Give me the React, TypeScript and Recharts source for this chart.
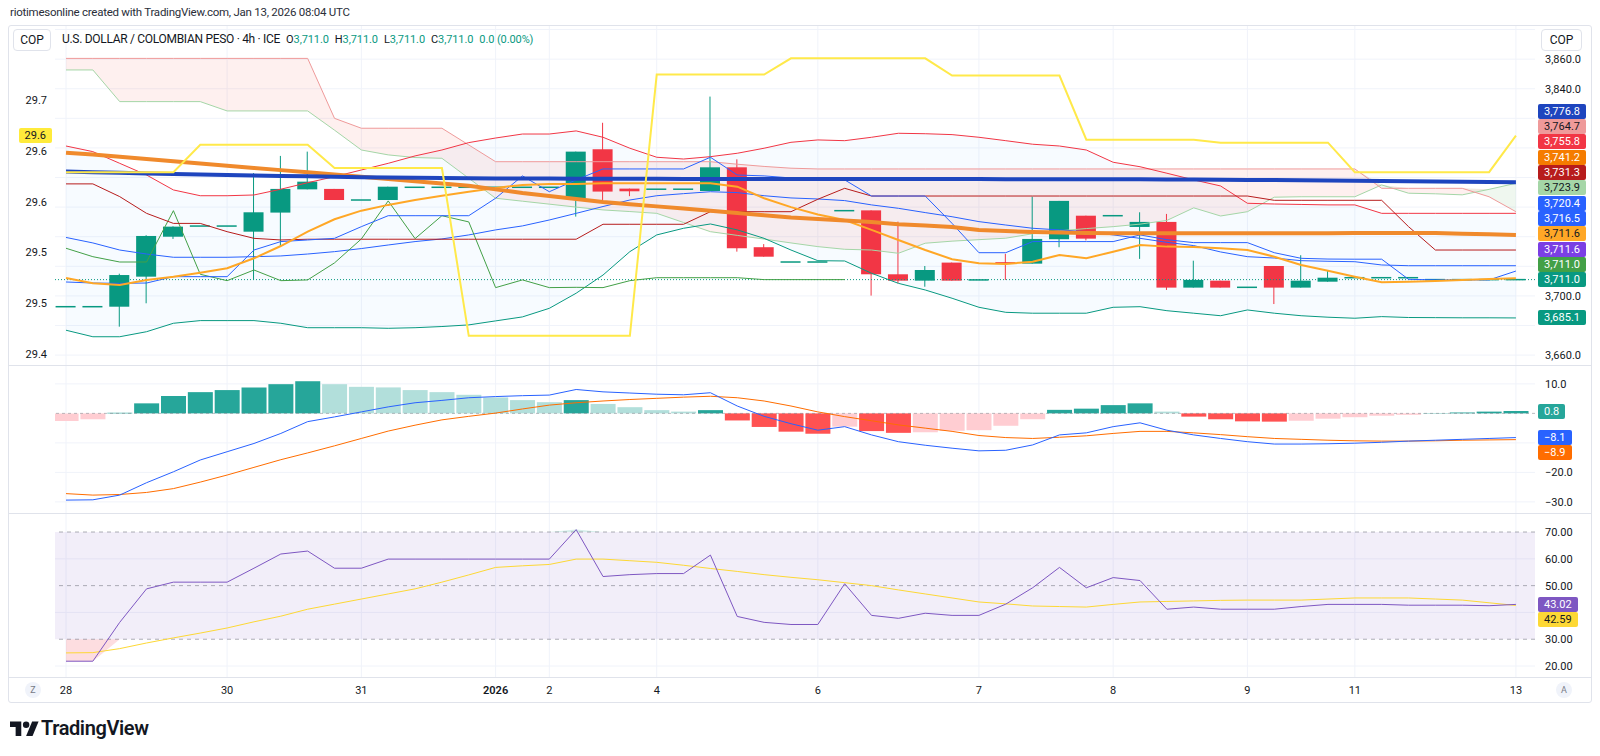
import React from 'react'
import { ComposedChart, Bar, Line, Area, XAxis, YAxis, CartesianGrid, ReferenceLine, ReferenceArea, Cell } from 'recharts'

// time axis: bar index of each day boundary and its label
const dayTicks = [0, 6, 11, 16, 18, 22, 28, 34, 39, 44, 48, 54]
const dayLabels = ['28', '30', '31', '2026', '2', '4', '6', '7', '8', '9', '11', '13']

// 4h candles
const opens = [3692.7, 3692.7, 3692.7, 3713.0, 3740.0, 3747.2, 3747.2, 3743.4, 3756.3, 3772.0,
  3772.3, 3764.8, 3764.8, 3773.4, 3773.4, 3773.4, 3773.4, 3773.4, 3773.4, 3765.5,
  3799.1, 3772.5, 3772.1, 3772.1, 3770.9, 3786.9, 3732.9, 3722.9, 3722.9, 3757.6,
  3757.8, 3714.6, 3710.3, 3722.5, 3710.8, 3722.8, 3721.8, 3738.3, 3754.2, 3754.2,
  3746.6, 3750.0, 3705.6, 3710.3, 3705.8, 3720.2, 3705.6, 3709.6, 3712.3, 3712.3,
  3712.3, 3711.0, 3711.0, 3711.0, 3711.0]
const highs = [3692.7, 3692.7, 3715.0, 3741.0, 3747.0, 3747.2, 3747.2, 3783.0, 3794.6, 3797.5,
  3772.3, 3764.8, 3773.8, 3773.4, 3773.4, 3773.4, 3773.4, 3773.4, 3773.4, 3797.5,
  3817.0, 3772.5, 3772.1, 3772.1, 3834.7, 3792.3, 3735.0, 3722.9, 3722.9, 3757.6,
  3757.8, 3750.2, 3720.2, 3722.5, 3710.8, 3728.4, 3767.1, 3764.2, 3754.2, 3754.2,
  3756.5, 3755.4, 3723.8, 3710.3, 3705.8, 3720.2, 3727.5, 3717.5, 3712.3, 3712.3,
  3712.3, 3711.0, 3711.0, 3711.0, 3711.0]
const lows = [3692.7, 3692.7, 3679.2, 3695.0, 3738.5, 3747.2, 3747.2, 3711.0, 3733.3, 3772.0,
  3764.8, 3764.8, 3764.8, 3773.4, 3773.4, 3773.4, 3773.4, 3773.4, 3773.4, 3753.6,
  3763.0, 3767.4, 3772.1, 3772.1, 3770.9, 3729.9, 3726.5, 3722.9, 3722.9, 3757.6,
  3700.2, 3708.5, 3706.2, 3710.3, 3710.8, 3710.8, 3721.8, 3732.9, 3737.5, 3754.2,
  3725.0, 3704.0, 3705.6, 3705.6, 3705.8, 3694.5, 3705.6, 3709.6, 3712.3, 3712.3,
  3712.3, 3711.0, 3711.0, 3711.0, 3711.0]
const closes = [3692.7, 3692.7, 3714.1, 3740.5, 3746.8, 3747.2, 3747.2, 3756.5, 3772.3, 3777.2,
  3764.8, 3764.8, 3773.8, 3773.4, 3773.4, 3773.4, 3773.4, 3773.4, 3773.4, 3797.5,
  3770.5, 3770.7, 3772.1, 3772.1, 3786.9, 3732.2, 3726.5, 3722.9, 3722.9, 3757.6,
  3714.6, 3710.3, 3717.5, 3710.3, 3710.8, 3722.3, 3738.5, 3764.2, 3738.7, 3754.2,
  3750.0, 3705.6, 3710.8, 3705.6, 3705.8, 3705.6, 3710.3, 3712.3, 3712.3, 3712.3,
  3712.3, 3711.0, 3711.0, 3711.0, 3711.0]

// Bollinger bands
const bbUpper = [3801.3, 3797.5, 3789.6, 3781.7, 3771.6, 3767.7, 3767.7, 3768.2, 3772.1, 3776.5,
  3780.6, 3785.1, 3789.6, 3794.6, 3798.6, 3803.6, 3806.7, 3809.4, 3809.4, 3811.5,
  3807.2, 3799.8, 3793.7, 3792.5, 3794.1, 3796.4, 3799.8, 3803.8, 3805.4, 3804.9,
  3807.2, 3809.9, 3809.6, 3809.0, 3807.2, 3804.9, 3802.5, 3801.3, 3798.6, 3790.3,
  3787.3, 3782.9, 3778.4, 3774.3, 3762.6, 3762.1, 3761.8, 3761.5, 3761.5, 3755.8,
  3755.8, 3755.8, 3755.8, 3755.8, 3755.8]
const bbBasis = [3739.5, 3735.8, 3731.0, 3728.3, 3726.1, 3726.1, 3726.1, 3726.5, 3727.0, 3728.3,
  3729.9, 3732.0, 3734.4, 3736.7, 3738.5, 3741.2, 3744.6, 3747.3, 3751.3, 3755.8,
  3760.4, 3764.8, 3767.7, 3769.1, 3770.4, 3769.8, 3767.7, 3766.2, 3765.5, 3764.4,
  3761.5, 3759.2, 3756.3, 3753.5, 3750.2, 3747.9, 3745.7, 3744.6, 3743.4, 3741.2,
  3738.9, 3736.2, 3734.0, 3729.7, 3726.5, 3725.6, 3723.8, 3723.4, 3723.1, 3720.9,
  3720.4, 3720.4, 3720.4, 3720.4, 3720.4]
const bbLower = [3676.8, 3672.4, 3672.4, 3675.8, 3681.5, 3683.3, 3683.3, 3683.3, 3681.5, 3678.5,
  3678.5, 3678.5, 3678.1, 3678.5, 3679.3, 3680.4, 3683.1, 3685.8, 3691.6, 3701.8,
  3714.1, 3729.9, 3741.2, 3745.7, 3748.6, 3744.6, 3738.9, 3731.0, 3723.8, 3723.6,
  3715.3, 3708.5, 3704.0, 3698.4, 3692.3, 3688.9, 3688.3, 3688.3, 3688.3, 3692.3,
  3692.7, 3690.0, 3688.3, 3686.6, 3690.5, 3688.3, 3686.6, 3685.6, 3684.9, 3686.0,
  3685.4, 3685.3, 3685.2, 3685.2, 3685.1]

// Ichimoku
const tenkan = [3709.4, 3708.7, 3708.5, 3708.7, 3713.0, 3713.0, 3713.0, 3731.0, 3736.7, 3737.8,
  3738.9, 3746.8, 3754.2, 3754.2, 3754.2, 3754.2, 3766.0, 3781.1, 3770.4, 3778.4,
  3785.8, 3785.8, 3785.8, 3785.8, 3793.7, 3781.7, 3781.1, 3779.7, 3778.4, 3778.4,
  3767.5, 3767.5, 3767.5, 3749.0, 3729.2, 3729.2, 3736.7, 3736.7, 3736.7, 3736.7,
  3741.2, 3738.0, 3736.0, 3736.0, 3736.0, 3729.2, 3725.4, 3724.9, 3724.8, 3724.8,
  3711.2, 3710.8, 3710.8, 3710.8, 3716.8]
const kijun = [3775.7, 3775.7, 3767.1, 3755.8, 3749.0, 3749.0, 3743.4, 3738.9, 3737.8, 3738.3,
  3738.3, 3738.3, 3738.3, 3738.3, 3738.3, 3738.3, 3738.3, 3738.3, 3738.3, 3738.3,
  3748.4, 3748.4, 3748.4, 3748.4, 3756.9, 3756.9, 3756.9, 3756.9, 3765.3, 3772.7,
  3767.5, 3767.5, 3767.5, 3767.5, 3767.5, 3767.5, 3767.5, 3767.5, 3767.5, 3767.5,
  3767.5, 3767.5, 3767.5, 3767.5, 3767.5, 3764.6, 3764.6, 3764.6, 3764.6, 3764.6,
  3746.8, 3731.0, 3731.0, 3731.0, 3731.0]
const spanA = [3852.7, 3852.7, 3831.3, 3831.3, 3831.3, 3831.3, 3825.0, 3825.0, 3825.0, 3825.0,
  3812.0, 3798.6, 3795.3, 3793.5, 3793.0, 3779.5, 3766.0, 3764.0, 3762.0, 3760.0,
  3758.1, 3757.0, 3755.8, 3749.6, 3743.4, 3740.9, 3738.4, 3735.8, 3733.3, 3731.5,
  3731.0, 3728.8, 3735.6, 3737.0, 3738.0, 3739.0, 3742.0, 3744.0, 3745.5, 3746.8,
  3748.5, 3751.0, 3759.5, 3754.0, 3756.9, 3766.7, 3767.0, 3767.0, 3767.0, 3775.0,
  3769.4, 3769.0, 3768.3, 3772.0, 3776.1]
const spanB = [3860.5, 3860.5, 3860.5, 3860.5, 3860.5, 3860.5, 3860.5, 3860.5, 3860.5, 3860.5,
  3820.0, 3813.3, 3813.3, 3813.3, 3813.3, 3802.0, 3790.7, 3790.7, 3790.7, 3790.7,
  3790.7, 3790.7, 3790.7, 3790.7, 3790.7, 3789.0, 3787.5, 3786.3, 3785.8, 3785.8,
  3785.8, 3785.8, 3785.8, 3785.8, 3785.8, 3785.8, 3785.8, 3785.8, 3785.8, 3785.8,
  3785.8, 3785.8, 3785.8, 3785.8, 3785.8, 3785.8, 3785.8, 3785.8, 3785.8, 3772.7,
  3772.7, 3772.7, 3772.7, 3767.0, 3756.9]
const lagging = [3732.2, 3726.5, 3722.9, 3722.9, 3757.6, 3714.6, 3710.3, 3717.5, 3710.3, 3710.8,
  3722.3, 3738.5, 3764.2, 3738.7, 3754.2, 3750.0, 3705.6, 3710.8, 3705.6, 3705.8,
  3705.6, 3710.3, 3712.3, 3712.3, 3712.3, 3712.3, 3711.0, 3711.0, 3711.0, 3711.0]

// moving averages
const emaFast = [3712.1, 3708.5, 3707.4, 3710.8, 3713.0, 3715.7, 3718.7, 3725.4, 3733.7, 3743.4,
  3751.8, 3757.6, 3761.5, 3764.8, 3767.7, 3770.4, 3772.9, 3775.0, 3775.7, 3775.7,
  3776.1, 3776.1, 3776.1, 3776.1, 3776.1, 3773.8, 3766.0, 3760.0, 3755.0, 3751.3,
  3744.6, 3737.8, 3731.0, 3724.8, 3722.1, 3721.6, 3723.1, 3727.7, 3725.4, 3729.9,
  3734.4, 3733.3, 3733.1, 3732.2, 3731.0, 3726.5, 3720.9, 3717.0, 3713.0, 3709.2,
  3709.6, 3710.1, 3710.8, 3711.4, 3711.9]
const maOrange = [3796.8, 3795.5, 3794.0, 3792.5, 3791.0, 3789.5, 3788.0, 3786.5, 3785.0, 3783.5,
  3782.0, 3780.5, 3779.0, 3777.5, 3776.0, 3774.5, 3772.0, 3769.5, 3767.5, 3765.5,
  3763.5, 3762.0, 3760.5, 3759.0, 3757.5, 3756.0, 3754.5, 3753.0, 3752.0, 3751.0,
  3750.0, 3748.5, 3747.5, 3746.5, 3744.5, 3743.8, 3743.2, 3742.8, 3742.5, 3742.3,
  3742.3, 3742.3, 3742.3, 3742.3, 3742.3, 3742.3, 3742.3, 3742.3, 3742.5, 3742.5,
  3742.5, 3742.5, 3742.0, 3741.6, 3741.2]
const maBlue = [3784.0, 3783.6, 3783.2, 3782.8, 3782.4, 3782.0, 3781.7, 3781.4, 3781.1, 3780.8,
  3780.5, 3780.2, 3780.0, 3779.8, 3779.6, 3779.5, 3779.4, 3779.3, 3779.3, 3779.2,
  3779.2, 3779.1, 3779.1, 3779.0, 3779.0, 3779.0, 3779.0, 3779.0, 3779.0, 3779.0,
  3779.0, 3779.0, 3779.0, 3779.0, 3779.0, 3778.9, 3778.9, 3778.9, 3778.9, 3778.9,
  3778.8, 3778.7, 3778.6, 3778.5, 3778.4, 3778.3, 3778.2, 3778.0, 3777.9, 3777.7,
  3777.5, 3777.3, 3777.1, 3776.9, 3776.8]
// series on the left scale
const yellowLine = [29.579, 29.579, 29.579, 29.579, 29.579, 29.606, 29.606, 29.606, 29.606, 29.606,
  29.583, 29.583, 29.583, 29.583, 29.583, 29.418, 29.418, 29.418, 29.418, 29.418,
  29.418, 29.418, 29.675, 29.675, 29.675, 29.675, 29.675, 29.691, 29.691, 29.691,
  29.691, 29.691, 29.691, 29.674, 29.674, 29.674, 29.674, 29.674, 29.611, 29.611,
  29.611, 29.611, 29.611, 29.608, 29.608, 29.608, 29.608, 29.608, 29.579, 29.579,
  29.579, 29.579, 29.579, 29.579, 29.615]

// MACD
const macdHist = [-2.6, -2.0, 0.2, 3.4, 5.9, 7.2, 7.9, 8.8, 9.9, 10.9,
  9.9, 9.0, 8.8, 7.9, 7.2, 6.3, 5.4, 4.5, 3.8, 4.5,
  3.2, 2.1, 1.1, 0.6, 1.1, -2.4, -4.6, -6.2, -6.9, -4.5,
  -6.0, -6.6, -6.4, -5.9, -5.7, -4.2, -2.0, 1.2, 1.6, 2.8,
  3.4, 0.6, -1.1, -2.0, -2.7, -2.8, -2.5, -1.8, -1.3, -0.8,
  -0.5, 0.1, 0.3, 0.6, 0.8]
const macdLine = [-29.4, -29.3, -27.7, -23.5, -19.8, -15.8, -13.0, -10.2, -6.8, -2.8,
  -1.2, 0.5, 2.2, 3.6, 4.4, 5.3, 5.7, 6.0, 6.2, 8.1,
  7.3, 6.9, 6.5, 6.3, 7.0, 2.5, -1.0, -3.5, -5.7, -4.5,
  -7.3, -9.6, -10.8, -11.8, -12.7, -12.5, -10.7, -7.3, -6.6, -4.5,
  -3.2, -5.7, -7.3, -8.5, -9.6, -10.4, -10.4, -10.3, -10.1, -9.8,
  -9.4, -9.1, -8.8, -8.5, -8.2]
const signalLine = [-27.2, -27.7, -27.5, -26.8, -25.5, -23.3, -20.9, -18.3, -15.7, -13.4,
  -11.0, -8.5, -6.0, -4.0, -2.2, -1.0, 0.1, 1.5, 2.8, 3.6,
  4.2, 4.7, 5.1, 5.5, 5.8, 5.3, 4.2, 2.5, 0.5, -1.1,
  -2.5, -3.9, -5.0, -6.1, -7.5, -8.2, -8.5, -8.1, -7.6, -6.8,
  -6.1, -6.1, -6.6, -7.2, -7.9, -8.5, -8.8, -9.1, -9.3, -9.4,
  -9.4, -9.3, -9.1, -9.0, -8.9]

// RSI
const rsi = [21.8, 21.8, 36.3, 48.8, 51.3, 51.3, 51.3, 56.5, 61.8, 62.9,
  56.5, 56.5, 59.9, 59.9, 59.9, 59.9, 59.9, 59.9, 59.9, 70.9,
  53.4, 54.1, 54.5, 54.5, 61.4, 38.5, 36.3, 35.5, 35.5, 50.7,
  38.9, 37.8, 39.7, 38.9, 38.9, 43.1, 49.2, 56.8, 49.2, 53.0,
  51.9, 41.2, 42.0, 41.2, 41.2, 41.2, 42.2, 43.0, 43.0, 43.0,
  42.7, 42.7, 42.7, 42.5, 43.0]
const rsiMa = [24.9, 25.0, 26.5, 28.6, 30.5, 32.3, 34.2, 36.5, 38.6, 41.2,
  43.1, 45.0, 46.9, 48.8, 51.3, 54.0, 56.8, 57.4, 57.9, 59.9,
  59.9, 59.3, 58.7, 57.6, 56.4, 55.3, 54.1, 53.1, 52.2, 51.1,
  50.0, 48.4, 46.9, 45.4, 43.9, 43.2, 42.4, 42.2, 42.0, 43.0,
  43.9, 44.1, 44.3, 44.5, 44.6, 44.6, 44.6, 45.0, 45.4, 45.4,
  45.4, 45.0, 44.6, 43.6, 42.6]

// axis ticks
const priceTicks = [3660, 3680, 3700, 3720, 3740, 3760, 3780, 3800, 3820, 3840, 3860]
const priceGrid = [...priceTicks, 3880]
const leftTicks = [29.4, 29.45, 29.5, 29.55, 29.6, 29.65]
const macdTicks = [10, 0, -10, -20, -30]
const macdGrid = [10, -10, -20, -30]
const rsiTicks = [70, 60, 50, 40, 30, 20]
const rsiGrid = [60, 40, 20]

// last-value tags on the scales (top to bottom)
const priceTagValues = [3776.8, 3764.7, 3755.8, 3741.2, 3731.3, 3723.9, 3720.4, 3716.5, 3711.6, 3711.6, 3711.0, 3711.0, 3685.1]
const priceTagColors = ['#1E45BE', '#EF9A9A', '#F23645', '#F57C00', '#B71C1C', '#A5D6A7', '#2962FF', '#2962FF', '#FFA726', '#7B3FE4', '#43A047', '#089981', '#089981']
const macdTagValues = [0.8, -8.1, -8.9]
const macdTagColors = ['#26A69A', '#2962FF', '#FF6D00']
const rsiTagValues = [43.02, 42.59]
const rsiTagColors = ['#7E57C2', '#FDD835']
const darkTextTags = ['#EF9A9A', '#A5D6A7', '#FFA726', '#FDD835', '#FFEB3B']

const W = 1600
const FONT = 'Roboto, "Open Sans", sans-serif'
const TEXT = '#131722'
const GRID = '#F0F3FA'
const BORDER = '#E0E3EB'
const UP = '#089981'
const DOWN = '#F23645'

const PRICE_TOP = 26
const PRICE_H = 339
const MACD_TOP = 365
const MACD_H = 148
const RSI_TOP = 513
const RSI_H = 164
const X_DOMAIN: [number, number] = [-0.41, 54.71]
const PRICE_DOMAIN: [number, number] = [3653.3, 3882.4]
const LEFT_DOMAIN: [number, number] = [29.3893, 29.7228]
const MACD_DOMAIN: [number, number] = [-33.77, 16.4]
const RSI_DOMAIN: [number, number] = [15.91, 77.1]
const TAG_H = 15.3

const fmt1 = (v: number) => v.toLocaleString('en-US', { minimumFractionDigits: 1, maximumFractionDigits: 1 })
const fmtSigned = (v: number) => (v < 0 ? '\u2212' : '') + Math.abs(v).toFixed(1)
const fmtLeft = (v: number) => (Math.round(v * 20) / 20 + 0.0001).toFixed(1)

const toY = (v: number, dom: [number, number], top: number, h: number) => top + ((dom[1] - v) / (dom[1] - dom[0])) * h

const stackUp = (ys: number[]) => {
  const out = [...ys]
  for (let k = out.length - 2; k >= 0; k--) out[k] = Math.min(out[k], out[k + 1] - TAG_H)
  return out
}
const stackDown = (ys: number[]) => {
  const out = [...ys]
  for (let k = 1; k < out.length; k++) out[k] = Math.max(out[k], out[k - 1] + TAG_H)
  return out
}

// tag positions, and the scale labels they cover
const priceTagY = stackUp(priceTagValues.map((v) => toY(v, PRICE_DOMAIN, PRICE_TOP, PRICE_H)))
const macdTagY = stackDown(macdTagValues.map((v) => toY(v, MACD_DOMAIN, MACD_TOP, MACD_H)))
const rsiTagY = stackDown(rsiTagValues.map((v) => toY(v, RSI_DOMAIN, RSI_TOP, RSI_H)))
const visible = (ticks: number[], tagY: number[], dom: [number, number], top: number, h: number) =>
  ticks.filter((t) => tagY.every((y) => Math.abs(toY(t, dom, top, h) - y) > 13))
const priceAxisTicks = visible(priceTicks, priceTagY, PRICE_DOMAIN, PRICE_TOP, PRICE_H)
const macdAxisTicks = visible(macdTicks, macdTagY, MACD_DOMAIN, MACD_TOP, MACD_H)
const rsiAxisTicks = visible(rsiTicks, rsiTagY, RSI_DOMAIN, RSI_TOP, RSI_H)

const priceRows = opens.map((o, i) => ({
  i, o, h: highs[i], l: lows[i], c: closes[i],
  bbUp: bbUpper[i], bbMid: bbBasis[i], bbLo: bbLower[i],
  tenkan: tenkan[i], kijun: kijun[i], spanA: spanA[i], spanB: spanB[i],
  lag: i < lagging.length ? lagging[i] : null,
  ema: emaFast[i], maO: maOrange[i], maB: maBlue[i], yel: yellowLine[i],
}))
const macdRows = macdHist.map((hist, i) => ({ i, hist, macd: macdLine[i], signal: signalLine[i] }))
const rsiRows = rsi.map((v, i) => ({ i, rsi: v, ma: rsiMa[i] }))

const histColor = (i: number) => {
  const v = macdHist[i]
  const prev = i > 0 ? macdHist[i - 1] : v
  if (v >= 0) return v >= prev ? '#26A69A' : '#B2DFDB'
  return v < prev ? '#FF5252' : '#FFCDD2'
}

const candleRange = (r: any) => (r.h - r.l < 0.05 ? [r.l - 0.05, r.h + 0.05] : [r.l, r.h])

const Candle = (props: any) => {
  const { x, y, width, height, payload } = props
  if (x == null || y == null || !payload) return null
  const color = payload.c < payload.o ? DOWN : UP
  const h = Math.abs(height)
  if (payload.h - payload.l < 0.05) {
    return <rect x={x} y={y + h / 2 - 0.75} width={width} height={1.5} fill={color} />
  }
  const [lo, hi] = candleRange(payload)
  const k = h / (hi - lo)
  const cx = x + width / 2
  const top = y + (hi - Math.max(payload.o, payload.c)) * k
  const bot = y + (hi - Math.min(payload.o, payload.c)) * k
  return (
    <g>
      <line x1={cx} x2={cx} y1={y} y2={y + h} stroke={color} strokeWidth={1} />
      <rect x={x} y={top} width={width} height={Math.max(bot - top, 1.5)} fill={color} />
    </g>
  )
}

const tickText = (fmt: (v: number) => string, anchor: 'start' | 'end') => (p: any) => (
  <text x={p.x} y={p.y} dy={4} textAnchor={anchor} fontSize={11} fill={TEXT} fontFamily={FONT}>
    {fmt(p.payload.value)}
  </text>
)

const Tag = ({ y, bg, text, left, right }: any) => (
  <div
    style={{
      position: 'absolute', top: y - 7.5, left, right, height: 15, lineHeight: '15px', padding: '0 6px',
      background: bg, color: darkTextTags.includes(bg) ? TEXT : '#fff', fontSize: 11, borderRadius: 2, whiteSpace: 'nowrap',
    }}
  >
    {text}
  </div>
)

const lineProps = { type: 'linear' as const, dot: false, activeDot: false, isAnimationActive: false }

const PriceChart = () => (
  <ComposedChart width={W} height={PRICE_H} data={priceRows} margin={{ top: 0, right: 10, bottom: 0, left: 10 }}>
    <CartesianGrid yAxisId="price" stroke={GRID} verticalValues={dayTicks} horizontalValues={priceGrid} />
    <XAxis dataKey="i" type="number" domain={X_DOMAIN} ticks={dayTicks} allowDataOverflow hide />
    <YAxis yAxisId="left" orientation="left" width={45} domain={LEFT_DOMAIN} ticks={leftTicks} interval={0}
      allowDataOverflow axisLine={false} tickLine={false} tickSize={0} tickMargin={8} tick={tickText(fmtLeft, 'end')} />
    <YAxis yAxisId="price" orientation="right" width={55} domain={PRICE_DOMAIN} ticks={priceAxisTicks} interval={0}
      allowDataOverflow axisLine={false} tickLine={false} tickSize={0} tickMargin={10} tick={tickText(fmt1, 'start')} />
    <Area yAxisId="price" dataKey={(r: any) => [r.bbLo, r.bbUp]} type="linear" stroke="none" fill="rgba(33,150,243,0.06)" isAnimationActive={false} activeDot={false} />
    <Area yAxisId="price" dataKey={(r: any) => [r.spanA, Math.max(r.spanA, r.spanB)]} type="linear" stroke="none" fill="rgba(244,67,54,0.13)" isAnimationActive={false} activeDot={false} />
    <Area yAxisId="price" dataKey={(r: any) => [r.spanB, Math.max(r.spanA, r.spanB)]} type="linear" stroke="none" fill="rgba(67,160,71,0.14)" isAnimationActive={false} activeDot={false} />
    <ReferenceLine yAxisId="price" y={closes[closes.length - 1]} stroke={UP} strokeDasharray="1 2" />
    <Bar yAxisId="price" dataKey={candleRange} barSize={20} shape={(p: any) => <Candle {...p} />} isAnimationActive={false} />
    <Line yAxisId="price" dataKey="spanA" stroke="#A5D6A7" strokeWidth={1} {...lineProps} />
    <Line yAxisId="price" dataKey="spanB" stroke="#EF9A9A" strokeWidth={1} {...lineProps} />
    <Line yAxisId="price" dataKey="bbUp" stroke="#F23645" strokeWidth={1} {...lineProps} />
    <Line yAxisId="price" dataKey="bbLo" stroke="#089981" strokeWidth={1} {...lineProps} />
    <Line yAxisId="price" dataKey="bbMid" stroke="#2962FF" strokeWidth={1} {...lineProps} />
    <Line yAxisId="price" dataKey="lag" stroke="#43A047" strokeWidth={1} {...lineProps} />
    <Line yAxisId="price" dataKey="kijun" stroke="#B71C1C" strokeWidth={1} {...lineProps} />
    <Line yAxisId="price" dataKey="tenkan" stroke="#2962FF" strokeWidth={1} {...lineProps} />
    <Line yAxisId="price" dataKey="ema" stroke="#FFA726" strokeWidth={2} {...lineProps} />
    <Line yAxisId="price" dataKey="maO" stroke="#F08A2C" strokeWidth={4} {...lineProps} />
    <Line yAxisId="price" dataKey="maB" stroke="#1E45BE" strokeWidth={4} {...lineProps} />
    <Line yAxisId="left" dataKey="yel" stroke="#FFE94A" strokeWidth={2} {...lineProps} />
  </ComposedChart>
)

const MacdChart = () => (
  <ComposedChart width={W} height={MACD_H} data={macdRows} margin={{ top: 0, right: 10, bottom: 0, left: 55 }}>
    <CartesianGrid stroke={GRID} verticalValues={dayTicks} horizontalValues={macdGrid} />
    <XAxis dataKey="i" type="number" domain={X_DOMAIN} ticks={dayTicks} allowDataOverflow hide />
    <YAxis orientation="right" width={55} domain={MACD_DOMAIN} ticks={macdAxisTicks} interval={0} allowDataOverflow
      axisLine={false} tickLine={false} tickSize={0} tickMargin={10} tick={tickText(fmtSigned, 'start')} />
    <ReferenceLine y={0} stroke="#787B86" strokeOpacity={0.5} strokeDasharray="3 3" />
    <Bar dataKey="hist" barSize={25} isAnimationActive={false}>
      {macdRows.map((r) => <Cell key={r.i} fill={histColor(r.i)} />)}
    </Bar>
    <Line dataKey="signal" stroke="#FF6D00" strokeWidth={1} {...lineProps} />
    <Line dataKey="macd" stroke="#2962FF" strokeWidth={1} {...lineProps} />
  </ComposedChart>
)

const RsiChart = () => (
  <ComposedChart width={W} height={RSI_H + 26} data={rsiRows} margin={{ top: 0, right: 10, bottom: 0, left: 55 }}>
    <CartesianGrid stroke={GRID} verticalValues={dayTicks} horizontalValues={rsiGrid} />
    <XAxis dataKey="i" type="number" domain={X_DOMAIN} ticks={dayTicks} interval={0} allowDataOverflow height={26}
      axisLine={false} tickLine={false} tickSize={0} tickMargin={0}
      tick={(p: any) => (
        <text x={p.x} y={p.y} dy={17} textAnchor="middle" fontSize={11} fill={TEXT} fontFamily={FONT}
          fontWeight={dayLabels[dayTicks.indexOf(p.payload.value)] === '2026' ? 600 : 400}>
          {dayLabels[dayTicks.indexOf(p.payload.value)]}
        </text>
      )} />
    <YAxis orientation="right" width={55} domain={RSI_DOMAIN} ticks={rsiAxisTicks} interval={0} allowDataOverflow
      axisLine={false} tickLine={false} tickSize={0} tickMargin={10} tick={tickText((v) => v.toFixed(2), 'start')} />
    <ReferenceArea y1={30} y2={70} fill="#7E57C2" fillOpacity={0.1} stroke="none" />
    <ReferenceLine y={70} stroke="#787B86" strokeOpacity={0.6} strokeDasharray="4 4" />
    <ReferenceLine y={50} stroke="#787B86" strokeOpacity={0.6} strokeDasharray="4 4" />
    <ReferenceLine y={30} stroke="#787B86" strokeOpacity={0.6} strokeDasharray="4 4" />
    <Area dataKey={(r: any) => [Math.min(r.rsi, 30), 30]} type="linear" stroke="none" fill="rgba(242,54,69,0.28)" isAnimationActive={false} activeDot={false} />
    <Area dataKey={(r: any) => [70, Math.max(r.rsi, 70)]} type="linear" stroke="none" fill="rgba(8,153,129,0.28)" isAnimationActive={false} activeDot={false} />
    <Line dataKey="ma" stroke="#FDD835" strokeWidth={1} {...lineProps} />
    <Line dataKey="rsi" stroke="#7E57C2" strokeWidth={1} {...lineProps} />
  </ComposedChart>
)

const Logo = () => (
  <svg width={29} height={23} viewBox="0 0 36 28" style={{ position: 'absolute', left: 10, top: 718 }}>
    <path d="M14 22H7V11H0V4h14v18z" fill={TEXT} />
    <circle cx={20} cy={8} r={4} fill={TEXT} />
    <path d="M28 22h-8l7.5-18h8L28 22z" fill={TEXT} />
  </svg>
)

const Round = ({ x, text }: any) => (
  <div style={{ position: 'absolute', left: x - 8, top: 682, width: 16, height: 16, borderRadius: 8, background: '#F0F3FA', color: '#787B86', fontSize: 9, lineHeight: '16px', textAlign: 'center' }}>
    {text}
  </div>
)

export default function App() {
  const last = opens.length - 1
  const change = closes[last] - closes[last - 1]
  const yelY = toY(yellowLine[last], LEFT_DOMAIN, PRICE_TOP, PRICE_H)
  const ohlc: [string, number][] = [['O', opens[last]], ['H', highs[last]], ['L', lows[last]], ['C', closes[last]]]

  return (
    <div style={{ position: 'absolute', left: 0, top: 0, width: W, height: 756, background: '#fff', fontFamily: FONT, color: TEXT, overflow: 'hidden' }}>
      <div style={{ position: 'absolute', left: 10, top: 5, fontSize: 11.5, color: '#2A2E39', letterSpacing: -0.25, whiteSpace: 'nowrap' }}>
        riotimesonline created with TradingView.com, Jan 13, 2026 08:04 UTC
      </div>

      <div style={{ position: 'absolute', left: 8, top: 25, width: 1584, height: 678, border: `1px solid ${BORDER}`, boxSizing: 'border-box', borderRadius: 3 }} />

      <div style={{ position: 'absolute', left: 0, top: PRICE_TOP }}><PriceChart /></div>
      <div style={{ position: 'absolute', left: 0, top: MACD_TOP }}><MacdChart /></div>
      <div style={{ position: 'absolute', left: 0, top: RSI_TOP }}><RsiChart /></div>

      <div style={{ position: 'absolute', left: 9, top: MACD_TOP, width: 1582, height: 1, background: BORDER }} />
      <div style={{ position: 'absolute', left: 9, top: RSI_TOP, width: 1582, height: 1, background: BORDER }} />
      <div style={{ position: 'absolute', left: 9, top: RSI_TOP + RSI_H, width: 1582, height: 1, background: BORDER }} />

      <div style={{ position: 'absolute', left: 13, top: 29, width: 38, height: 22, boxSizing: 'border-box', border: `1px solid ${BORDER}`, borderRadius: 4, background: '#fff', fontSize: 12, lineHeight: '20px', textAlign: 'center' }}>COP</div>
      <div style={{ position: 'absolute', left: 1541, top: 29, width: 41, height: 22, boxSizing: 'border-box', border: `1px solid ${BORDER}`, borderRadius: 4, background: '#fff', fontSize: 12, lineHeight: '20px', textAlign: 'center' }}>COP</div>

      <div style={{ position: 'absolute', left: 62, top: 31, fontSize: 12, lineHeight: '16px', whiteSpace: 'nowrap', letterSpacing: -0.3 }}>
        <span>U.S. DOLLAR / COLOMBIAN PESO · 4h · ICE</span>
        <span style={{ fontSize: 11, letterSpacing: -0.1 }}>
          {ohlc.map(([k, v]) => (
            <span key={k} style={{ marginLeft: 6 }}>
              {k}<span style={{ color: UP }}>{fmt1(v)}</span>
            </span>
          ))}
          <span style={{ marginLeft: 6, color: UP }}>{`${change.toFixed(1)} (${((change / closes[last - 1]) * 100).toFixed(2)}%)`}</span>
        </span>
      </div>

      {priceTagValues.map((v, k) => (
        <Tag key={`p${k}`} y={priceTagY[k]} bg={priceTagColors[k]} text={fmt1(v)} left={1538} />
      ))}
      {macdTagValues.map((v, k) => (
        <Tag key={`m${k}`} y={macdTagY[k]} bg={macdTagColors[k]} text={fmtSigned(v)} left={1538} />
      ))}
      {rsiTagValues.map((v, k) => (
        <Tag key={`r${k}`} y={rsiTagY[k]} bg={rsiTagColors[k]} text={v.toFixed(2)} left={1538} />
      ))}
      <Tag y={yelY} bg="#FFEB3B" text={fmtLeft(yellowLine[last])} right={W - 52} />

      <Round x={33} text="Z" />
      <Round x={1564} text="A" />

      <Logo />
      <div style={{ position: 'absolute', left: 41, top: 716, fontSize: 20, fontWeight: 600, letterSpacing: -0.4 }}>TradingView</div>
    </div>
  )
}
